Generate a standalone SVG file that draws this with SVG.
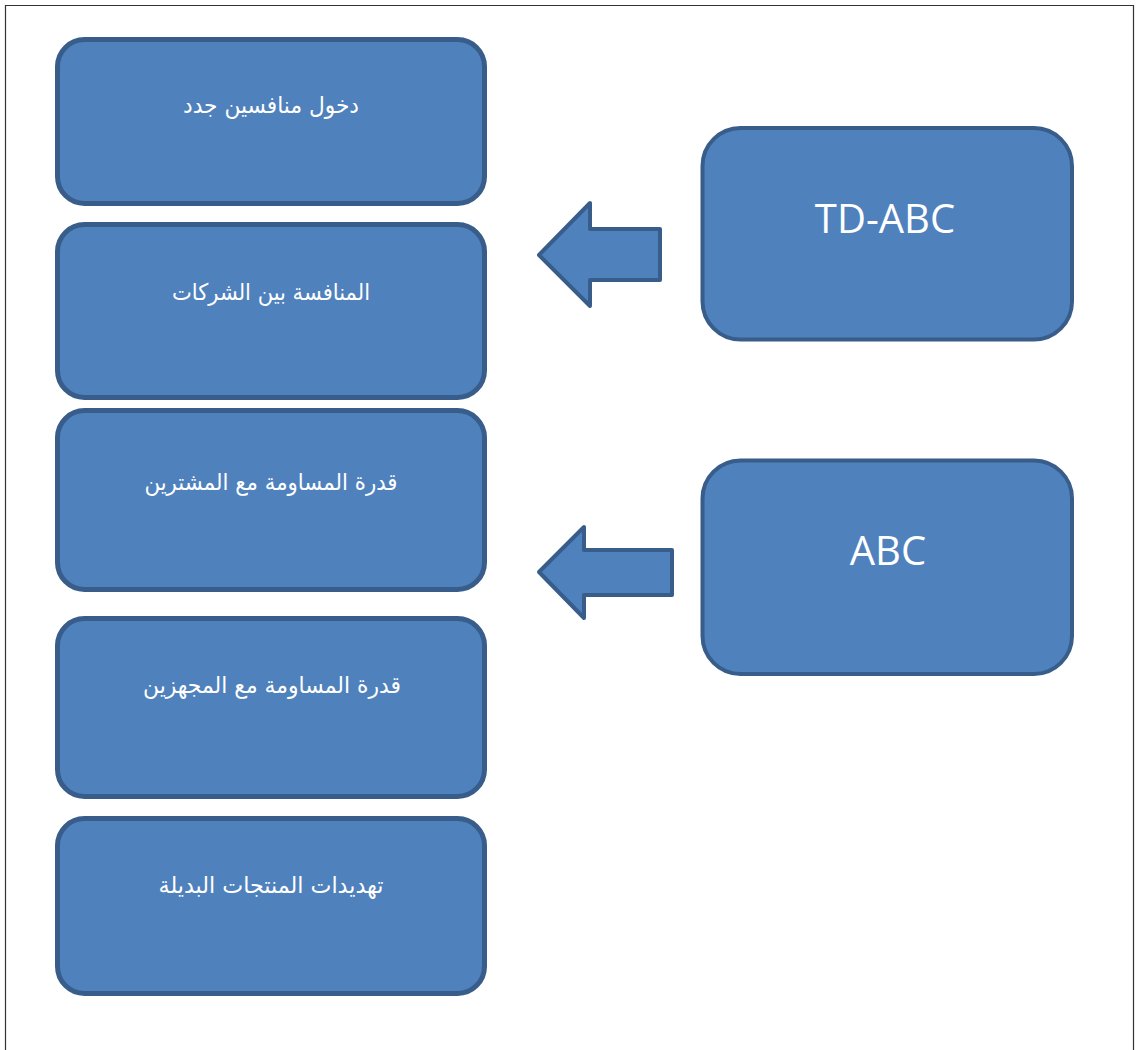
<svg xmlns="http://www.w3.org/2000/svg" width="1137" height="1050" viewBox="0 0 1137 1050">
<style>
.box{fill:#4F81BD;stroke:#385D8A;stroke-width:5}
.rbox{fill:#4F81BD;stroke:#385D8A;stroke-width:4}
.arrow{fill:#4F81BD;stroke:#385D8A;stroke-width:4;stroke-linejoin:round}
.ar{font-family:"DejaVu Sans","Noto Sans",sans-serif;font-size:23px;fill:#FFFFFF;text-anchor:middle}
.en{font-family:"Open Sans","Liberation Sans",sans-serif;font-size:40px;fill:#FFFFFF;text-anchor:middle}
</style>
<rect x="0" y="0" width="1137" height="1050" fill="#FFFFFF"/>
<path d="M5.5,1050 V5.5 H1133.5 V1050" fill="none" stroke="#333333" stroke-width="1.2"/>
<g id="node-new-entrants">
<rect class="box" x="57.5" y="39.5" width="427" height="164" rx="27" ry="27"/>
<text class="ar" x="271" y="113" direction="rtl" textLength="176" lengthAdjust="spacingAndGlyphs">دخول منافسين جدد</text>
</g>
<g id="node-rivalry">
<rect class="box" x="57.5" y="224.5" width="427" height="173" rx="27" ry="27"/>
<text class="ar" x="271" y="300" direction="rtl" textLength="198" lengthAdjust="spacingAndGlyphs">المنافسة بين الشركات</text>
</g>
<g id="node-buyers">
<rect class="box" x="57.5" y="410.5" width="427" height="179" rx="27" ry="27"/>
<text class="ar" x="271" y="490" direction="rtl" textLength="253" lengthAdjust="spacingAndGlyphs">قدرة المساومة مع المشترين</text>
</g>
<g id="node-suppliers">
<rect class="box" x="57.5" y="618.5" width="427" height="178" rx="27" ry="27"/>
<text class="ar" x="272" y="693" direction="rtl" textLength="258" lengthAdjust="spacingAndGlyphs">قدرة المساومة مع المجهزين</text>
</g>
<g id="node-substitutes">
<rect class="box" x="57.5" y="818.5" width="427" height="175" rx="27" ry="27"/>
<text class="ar" x="271" y="893" direction="rtl" textLength="225" lengthAdjust="spacingAndGlyphs">تهديدات المنتجات البديلة</text>
</g>
<g id="node-tdabc">
<rect class="rbox" x="702.5" y="128" width="369.5" height="211.5" rx="38" ry="38"/>
<text class="en" x="885" y="233">TD-ABC</text>
</g>
<g id="node-abc">
<rect class="rbox" x="702.5" y="460.5" width="369.5" height="213.5" rx="38" ry="38"/>
<text class="en" x="888" y="565">ABC</text>
</g>
<g id="connectors">
<path class="arrow" d="M539,255 L590,203 L590,229 L660,229 L660,280 L590,280 L590,306 Z"/>
<path class="arrow" d="M539,572 L584,527 L584,550 L672,550 L672,595 L584,595 L584,618 Z"/>
</g>
</svg>
